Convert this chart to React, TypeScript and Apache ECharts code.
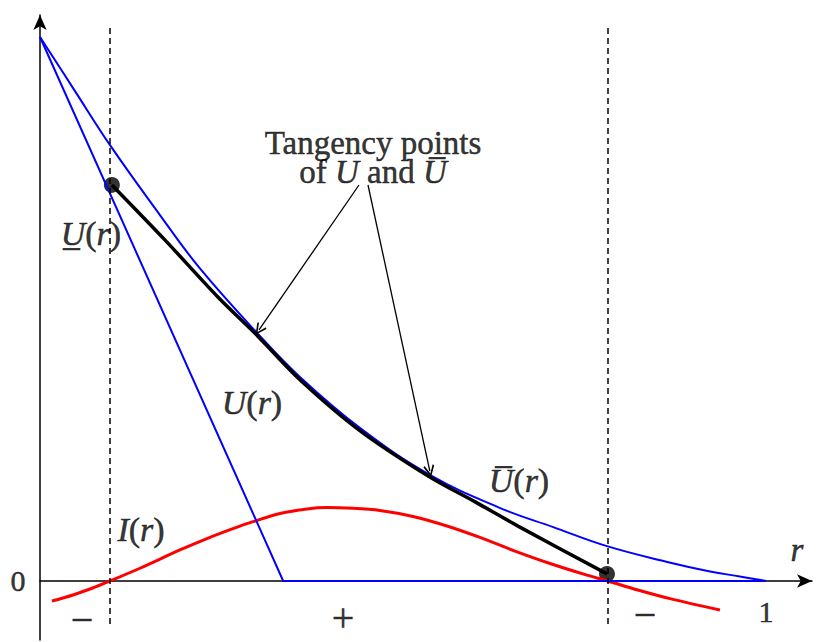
import React, { useEffect, useRef } from "react";
import * as echarts from "echarts";

// ---- data (r in [0,1], value units) ----
const underU_r = [0, 0.335, 1.0];
const underU_v = [1.0, 0, 0];

const overU_r = [0, 0.048, 0.096, 0.165, 0.22, 0.299, 0.358, 0.441, 0.537, 0.634, 0.707, 0.781, 0.864, 0.923, 0.964, 1.0];
const overU_v = [1.0, 0.901, 0.802, 0.673, 0.575, 0.456, 0.375, 0.281, 0.195, 0.134, 0.099, 0.064, 0.035, 0.0175, 0.0083, 0];

const U_r = [0.099, 0.172, 0.245, 0.3, 0.358, 0.441, 0.537, 0.6, 0.661, 0.781];
const U_v = [0.728, 0.627, 0.522, 0.45, 0.37, 0.276, 0.191, 0.145, 0.099, 0.013];

const I_r = [0.0165, 0.0455, 0.0734, 0.0964, 0.1377, 0.1928, 0.23, 0.2658, 0.2934, 0.3306, 0.3678, 0.3953, 0.4311, 0.4683, 0.5138, 0.5606, 0.6061, 0.6543, 0.7025, 0.7534, 0.782, 0.8223, 0.8678, 0.9366];
const I_v = [-0.0368, -0.0257, -0.0125, 0, 0.0234, 0.057, 0.078, 0.0962, 0.109, 0.124, 0.1325, 0.135, 0.1336, 0.1296, 0.1186, 0.1011, 0.08, 0.055, 0.0322, 0.0108, 0, -0.0161, -0.0325, -0.0535];

// switching radii (dashed guides)
const switchR = [0.0964, 0.7824];
const guideTop = 1.0165;
const guideBottom = -0.0864;

// tick labels
const yTickLabels = [{ r: -0.0303, v: 0, text: "0" }];
const xTickLabels = [{ r: 1.0, v: -0.057, text: "1" }];
const axisName = { r: 1.0427, v: 0.057, text: "{ax|r}" };

// sign of I(r) on each interval
const signLabels = [
  { r: 0.0579, v: -0.0717, text: "−" },
  { r: 0.4174, v: -0.068, text: "+" },
  { r: 0.8333, v: -0.0625, text: "−" },
];

// curve labels
const curveLabels = [
  { r: 0.0702, v: 0.638, text: "{i|U\u0332}{n|(}{i|r}{n|)}" },
  { r: 0.292, v: 0.3272, text: "{i|U}{n|(}{i|r}{n|)}" },
  { r: 0.6598, v: 0.1838, text: "{i|U\u0305}{n|(}{i|r}{n|)}" },
  { r: 0.1391, v: 0.0938, text: "{i|I}{n|(}{i|r}{n|)}" },
];

// annotation
const noteText = "{nn|Tangency points}\n{nn|of }{ni|U}{nn| and }{ni|U\u0305}";
const noteAt = [0.4587, 0.7785];
const noteArrows = [
  { from: [0.4394, 0.7279], to: [0.3017, 0.4616] },
  { from: [0.4518, 0.7279], to: [0.537, 0.202] },
];

const FONT = "'Liberation Serif', 'DejaVu Serif', serif";

const zip = (a: number[], b: number[]) => a.map((x, i) => [x, b[i]]);

export default function App() {
  const ref = useRef<HTMLDivElement>(null);

  useEffect(() => {
    document.body.style.margin = "0";
    if (!ref.current) return;
    const chart = echarts.init(ref.current, null, { renderer: "svg" });

    const base = { fontFamily: FONT, color: "#000", textBorderColor: "#000", textBorderWidth: 0.5 };
    const rich = {
      n: { ...base, fontSize: 34 },
      i: { ...base, fontSize: 34, fontStyle: "italic" },
      d: { ...base, fontSize: 30 },
      s: { ...base, fontSize: 40 },
      ax: { ...base, fontSize: 33, fontStyle: "italic" },
      nn: { ...base, fontSize: 33, lineHeight: 29 },
      ni: { ...base, fontSize: 33, lineHeight: 29, fontStyle: "italic" },
    };

    const allLabels = [
      ...yTickLabels.map((d) => ({ ...d, text: `{d|${d.text}}` })),
      ...xTickLabels.map((d) => ({ ...d, text: `{d|${d.text}}` })),
      axisName,
      ...signLabels.map((d) => ({ ...d, text: `{s|${d.text}}` })),
      ...curveLabels,
      { r: noteAt[0], v: noteAt[1], text: noteText },
    ];

    const axisCommon = {
      type: "value" as const,
      axisLine: {
        show: true,
        onZero: true,
        symbol: ["none", "arrow"],
        symbolSize: [10, 15],
        lineStyle: { color: "#000", width: 1.5 },
      },
      axisTick: { show: false },
      axisLabel: { show: false },
      splitLine: { show: false },
    };

    const chevron = "path://M5 0 L10 10 L8.8 11 L5 3.2 L1.2 11 L0 10 Z";

    chart.setOption({
      animation: false,
      grid: { left: 40, right: 8, top: 15, bottom: 2 },
      xAxis: { ...axisCommon, min: 0, max: 1.0634 },
      yAxis: { ...axisCommon, min: -0.1085, max: 1.0404 },
      series: [
        {
          name: "I(r)",
          type: "line",
          data: zip(I_r, I_v),
          smooth: 0.3,
          showSymbol: false,
          lineStyle: { color: "#ff0000", width: 3 },
          silent: true,
          markLine: {
            silent: true,
            symbol: ["none", "none"],
            label: { show: false },
            lineStyle: { color: "#000", width: 1.5, type: [6, 4] },
            data: switchR.map((r) => [{ coord: [r, guideTop] }, { coord: [r, guideBottom] }]),
          },
        },
        {
          name: "lowerU",
          type: "line",
          data: zip(underU_r, underU_v),
          showSymbol: false,
          lineStyle: { color: "#0000ff", width: 2 },
          silent: true,
        },
        {
          name: "upperU",
          type: "line",
          data: zip(overU_r, overU_v),
          smooth: 0.4,
          showSymbol: false,
          lineStyle: { color: "#0000ff", width: 2 },
          silent: true,
        },
        {
          name: "U(r)",
          type: "line",
          data: zip(U_r, U_v),
          smooth: 0.3,
          showSymbol: false,
          lineStyle: { color: "#000", width: 3.5 },
          silent: true,
          markLine: {
            silent: true,
            symbol: ["none", chevron],
            symbolSize: [11, 12],
            label: { show: false },
            lineStyle: { color: "#000", width: 1.3, type: "solid" },
            data: noteArrows.map((a) => [{ coord: a.from }, { coord: a.to }]),
          },
        },
        {
          name: "endpoints",
          type: "scatter",
          data: [
            [U_r[0], U_v[0]],
            [U_r[U_r.length - 1], U_v[U_v.length - 1]],
          ],
          symbolSize: 16,
          itemStyle: { color: "#000" },
          silent: true,
        },
        {
          name: "labels",
          type: "scatter",
          clip: false,
          symbolSize: 0,
          silent: true,
          itemStyle: { color: "transparent" },
          data: allLabels.map((d) => ({
            value: [d.r, d.v],
            label: { formatter: d.text },
          })),
          label: {
            show: true,
            position: "inside",
            align: "center",
            verticalAlign: "middle",
            color: "#000",
            rich,
          },
        },
      ],
    });

    return () => chart.dispose();
  }, []);

  return (
    <div
      ref={ref}
      style={{ position: "absolute", left: 0, top: 0, width: 820, height: 642 }}
    />
  );
}
